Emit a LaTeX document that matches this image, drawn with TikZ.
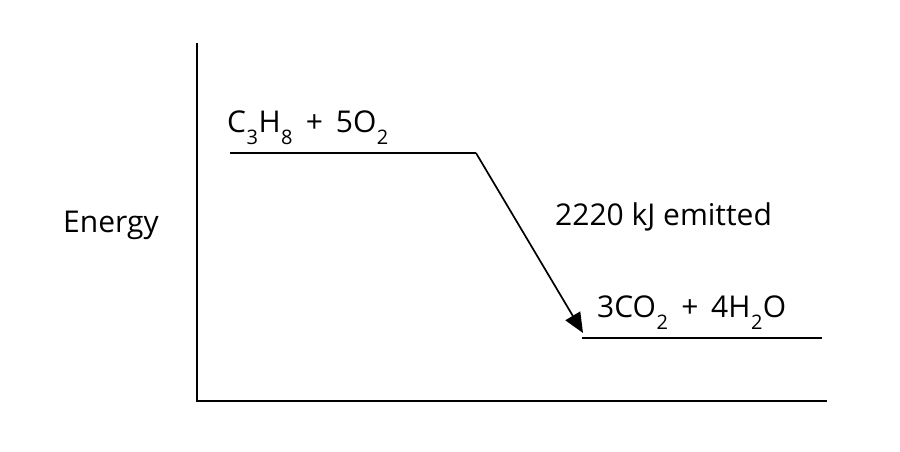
\documentclass[tikz,border=0pt]{standalone}
\usepackage{fontspec}
\setmainfont{Open Sans}
\usetikzlibrary{arrows.meta}
\newcommand\lowsub[1]{\kern0.5pt\relax\raisebox{-0.42em}{\fontsize{20}{20}\selectfont #1}\kern0.5pt\relax}
\tikzset{
  lbl/.style={anchor=base west, inner sep=0pt, font=\fontsize{30}{32}\selectfont},
  axis/.style={line width=1.7pt},
  level/.style={line width=1.7pt},
  drop/.style={line width=1.7pt, -{Triangle[length=20pt,width=17pt]}}
}
\begin{document}
\begin{tikzpicture}[x=1pt,y=-1pt]
\useasboundingbox (0,0) rectangle (900,452);
% axes
\coordinate (ytop) at (197,43);
\coordinate (orig) at (197,401);
\coordinate (xend) at (827,401);
\draw[axis] (ytop) -- (orig) -- (xend);
% levels
\coordinate (r1) at (230,153);
\coordinate (r2) at (476,153);
\coordinate (p1) at (582,338);
\coordinate (p2) at (822,338);
\coordinate (tip) at (583,333);
\draw[level] (r1) -- (r2);
\draw[level] (p1) -- (p2);
\draw[drop] (r2) -- (tip);
% labels
\node[lbl] (energy) at (63,232) {Energy};
\node[lbl] (react) at (227,132) {C\lowsub{3}H\lowsub{8} \,+\, 5O\lowsub{2}};
\node[lbl] (heat) at (555,225) {2220 kJ emitted};
\node[lbl] (prod) at (597,317) {3CO\lowsub{2} \,+\, 4H\lowsub{2}O};
\end{tikzpicture}
\end{document}
